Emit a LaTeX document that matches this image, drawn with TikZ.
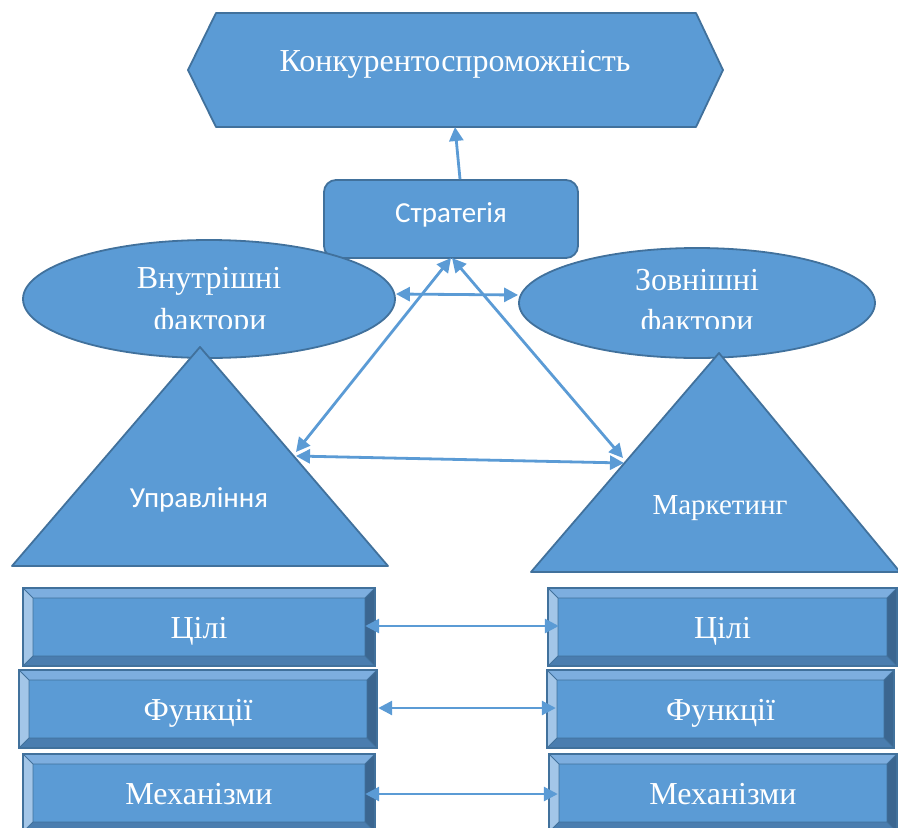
\documentclass[tikz,border=0pt]{standalone}
\usepackage{fontspec}
\setmainfont{Liberation Serif}
\newfontfamily\calfont{Carlito}
\usetikzlibrary{arrows.meta,shapes.geometric}
\definecolor{ofill}{HTML}{5B9BD5}
\definecolor{oline}{HTML}{41719C}
\definecolor{btop}{HTML}{7DAEDF}
\definecolor{bleft}{HTML}{A3C6E8}
\definecolor{bright}{HTML}{3B6690}
\definecolor{bbot}{HTML}{4A7DAF}
\tikzset{
  shp/.style={draw=oline, fill=ofill, line width=1.8pt, line join=round},
  wtxt/.style={text=white, inner sep=0pt, font=\fontsize{32}{32}\selectfont, anchor=base},
  stxt/.style={text=white, inner sep=0pt, font=\calfont\fontsize{29}{29}\selectfont, anchor=base},
  arr/.style={draw=ofill, line width=2.8pt, -{Triangle[length=14pt,width=14pt]}},
  dbl/.style={draw=ofill, line width=2.8pt, {Triangle[length=14pt,width=14pt]}-{Triangle[length=14pt,width=14pt]}}
}
\newcommand\bevbox[6]{%
  \fill[btop] (#2,#3) -- (#4,#3) -- (#4-10,#3+10) -- (#2+10,#3+10) -- cycle;
  \fill[bleft] (#2,#3) -- (#2+10,#3+10) -- (#2+10,#5-10) -- (#2,#5) -- cycle;
  \fill[bright] (#4,#3) -- (#4,#5) -- (#4-10,#5-10) -- (#4-10,#3+10) -- cycle;
  \fill[bbot] (#2,#5) -- (#4,#5) -- (#4-10,#5-10) -- (#2+10,#5-10) -- cycle;
  \fill[ofill] (#2+10,#3+10) rectangle (#4-10,#5-10);
  \draw[oline, line width=0.9pt] (#2+10,#3+10) rectangle (#4-10,#5-10)
     (#2,#3) -- (#2+10,#3+10) (#4,#3) -- (#4-10,#3+10)
     (#2,#5) -- (#2+10,#5-10) (#4,#5) -- (#4-10,#5-10);
  \draw[oline, line width=1.8pt] (#2,#3) rectangle (#4,#5);
  \node[inner sep=0pt, minimum width={#4-#2}, minimum height={#5-#3}] (#1) at ({(#2+#4)/2},{(#3+#5)/2}) {};
  \node[wtxt] (#1t) at ({(#2+#4)/2},{(#3+#5)/2+11}) {#6};
}
\begin{document}
\begin{tikzpicture}[x=1pt,y=-1pt]
\useasboundingbox (0,0) rectangle (898,828);
\clip (0,0) rectangle (898,828);
% hexagon
\coordinate (hL) at (188,70);
\coordinate (hTL) at (216,13);
\coordinate (hTR) at (696,13);
\coordinate (hR) at (723,70);
\coordinate (hBR) at (696,127);
\coordinate (hBL) at (216,127);
\coordinate (hexbot) at (455,127);
\draw[shp] (hL) -- (hTL) -- (hTR) -- (hR) -- (hBR) -- (hBL) -- cycle;
\node[wtxt] (konk) at (455,71) {Конкурентоспроможність};
% strategy
\node[shp, rounded corners=12pt, minimum width=254pt, minimum height=78pt, inner sep=0pt] (strat) at (451,219) {};
\node[stxt] (stratt) at (451,222) {Стратегія};
% ellipses
\node[shp, ellipse, inner sep=0pt, minimum width=372pt, minimum height=118pt] (inner) at (209,299) {};
\node[shp, ellipse, inner sep=0pt, minimum width=356pt, minimum height=110pt] (outer) at (697,303) {};
\node[wtxt] (innert) at (209,288) {Внутрішні};
\node[wtxt] (outert) at (697,290) {Зовнішні};
\begin{scope}
  \clip (0,0) rectangle (898,328.5);
  \node[wtxt] (innerf) at (210,330) {фактори};
  \node[wtxt] (outerf) at (697,331) {фактори};
\end{scope}
% triangles
\coordinate (ltA) at (200,347);
\coordinate (ltB) at (12,566);
\coordinate (ltC) at (388,566);
\coordinate (rtA) at (719,353);
\coordinate (rtB) at (531,572);
\coordinate (rtC) at (900,572);
\draw[shp] (ltA) -- (ltC) -- (ltB) -- cycle;
\draw[shp] (rtA) -- (rtC) -- (rtB) -- cycle;
\node[stxt] (upr) at (199,507) {Управління};
\node[wtxt, font=\fontsize{29}{29}\selectfont] (mark) at (720,514) {Маркетинг};
% arrow endpoints
\coordinate (sbot) at (451,258);
\coordinate (ltR) at (296,452);
\coordinate (ltR2) at (296,456);
\coordinate (rtL) at (623,458);
\coordinate (rtL2) at (624,463);
% bevel boxes
\bevbox{ciliL}{23}{588}{375}{666}{Цілі}
\bevbox{funL}{19}{670}{377}{748}{Функції}
\bevbox{mechL}{23}{754}{375}{832}{Механізми}
\bevbox{ciliR}{548}{588}{897}{666}{Цілі}
\bevbox{funR}{547}{670}{894}{748}{Функції}
\bevbox{mechR}{549}{754}{897}{832}{Механізми}
% connectors
\draw[arr] ([xshift=9pt]strat.north) -- (hexbot);
\draw[dbl] ([yshift=5pt]inner.east) -- ([yshift=8pt]outer.west);
\draw[dbl] (ltR) -- (sbot);
\draw[dbl] (rtL) -- ([xshift=1pt]sbot);
\draw[dbl] (ltR2) -- (rtL2);
\draw[dbl] ([xshift=-10pt,yshift=1pt]ciliL.east) -- ([xshift=11pt,yshift=1pt]ciliR.west);
\draw[dbl] ([xshift=1pt,yshift=1pt]funL.east) -- ([xshift=9pt,yshift=1pt]funR.west);
\draw[dbl] ([xshift=-10pt,yshift=-1pt]mechL.east) -- ([xshift=9pt,yshift=-1pt]mechR.west);
\end{tikzpicture}
\end{document}
